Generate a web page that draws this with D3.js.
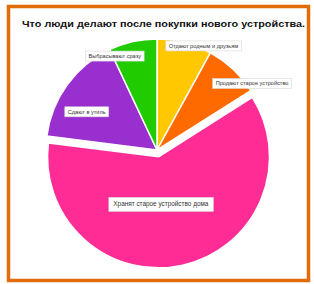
<!DOCTYPE html>
<html><head><meta charset="utf-8">
<script src="https://cdn.jsdelivr.net/npm/d3@7"></script>
<style>body{margin:0;background:#fff}svg{display:block}</style>
</head><body>
<script>
const title = "Что люди делают после покупки нового устройства.";
const categories = ["Отдают родным и друзьям", "Продают старое устройство", "Хранят старое устройство дома", "Сдают в утиль", "Выбрасывают сразу"];
const values = [8, 8, 61, 16, 7];
const colors = ["#FFC800", "#FF6A00", "#FF2C95", "#9A2FD0", "#20CC00"];
const exploded = [false, false, true, false, false];

const W = 314, H = 284;
const svg = d3.select("body").append("svg").attr("width", W).attr("height", H);
svg.append("rect").attr("x", 8.5).attr("y", 6.5).attr("width", 300).attr("height", 274)
  .attr("fill", "#fff").attr("stroke", "#E36C0A").attr("stroke-width", 3.5);

svg.append("text").attr("x", 22).attr("y", 27).text(title)
  .attr("font-family", "Liberation Sans, Arial, sans-serif").attr("font-weight", "bold")
  .attr("font-size", 9).attr("fill", "#111")
  .attr("textLength", 283).attr("lengthAdjust", "spacingAndGlyphs");

const cx = 157, cy = 150, R = 111;
const pie = d3.pie().sort(null).value(d => d)(values);
const arc = d3.arc().innerRadius(0).outerRadius(R);
const g = svg.append("g").attr("transform", `translate(${cx},${cy})`);
pie.forEach((p, i) => {
  const mid = (p.startAngle + p.endAngle) / 2;
  const off = exploded[i] ? 7 : 0;
  g.append("path").attr("d", arc(p))
    .attr("transform", `translate(${off * Math.sin(mid)},${-off * Math.cos(mid)})`)
    .attr("fill", colors[i]).attr("stroke", "#fff").attr("stroke-width", 1.5).attr("stroke-linejoin", "round");
});

// label anchor (angle in radians, distance from centre)
const labelPolar = [[0.42, 114], [0.96, 116], [3.07, 54], [5.21, 80], [5.86, 103]];
const fontSizes = [5.6, 5.6, 6.4, 5.6, 5.6];
const lg = svg.append("g").attr("transform", `translate(${cx},${cy})`);
pie.forEach((p, i) => {
  const [a, r] = labelPolar[i];
  const x = r * Math.sin(a), y = -r * Math.cos(a);
  const tx = lg.append("text").attr("x", x).attr("y", y).attr("text-anchor", "middle")
    .attr("dominant-baseline", "central")
    .attr("font-family", "Liberation Sans, Arial, sans-serif").attr("font-size", fontSizes[i])
    .attr("fill", "#333").text(categories[i]);
  const bb = tx.node().getBBox();
  const pad = i === 2 ? 3 : 2;
  lg.insert("rect", "text").attr("x", bb.x - pad * 1.5).attr("y", bb.y - pad)
    .attr("width", bb.width + pad * 3).attr("height", bb.height + pad * 2)
    .attr("fill", "#fff").attr("stroke", "#d8d8d8").attr("stroke-width", 0.6);
});
</script>
</body></html>
